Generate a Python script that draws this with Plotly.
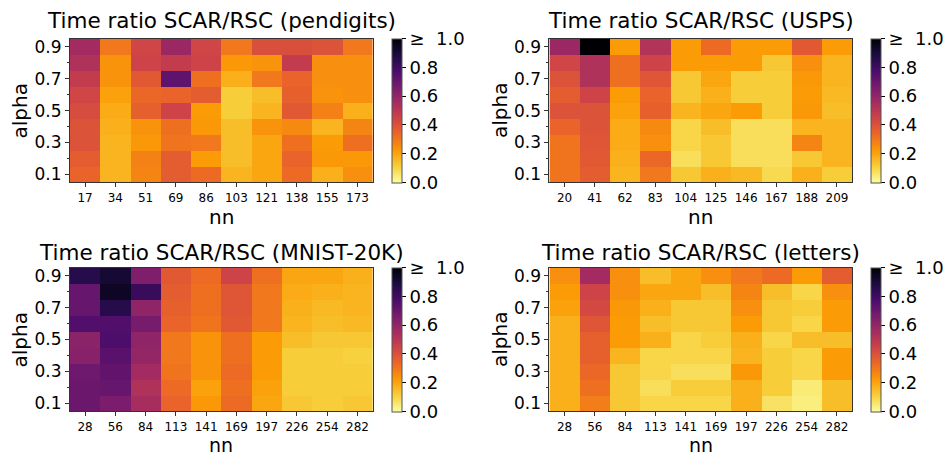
import plotly.graph_objects as go

alphas = [0.1, 0.2, 0.3, 0.4, 0.5, 0.6, 0.7, 0.8, 0.9]

nn_pendigits = ["17", "34", "51", "69", "86", "103", "121", "138", "155", "173"]
nn_usps = ["20", "41", "62", "83", "104", "125", "146", "167", "188", "209"]
nn_mnist = ["28", "56", "84", "113", "141", "169", "197", "226", "254", "282"]
nn_letters = ["28", "56", "84", "113", "141", "169", "197", "226", "254", "282"]

# rows: alpha 0.1 (first) ... 0.9 (last)
ratio_pendigits = [
    [0.35, 0.17, 0.27, 0.37, 0.33, 0.17, 0.20, 0.33, 0.18, 0.25],
    [0.37, 0.17, 0.28, 0.37, 0.22, 0.15, 0.20, 0.35, 0.23, 0.23],
    [0.40, 0.17, 0.23, 0.31, 0.30, 0.15, 0.20, 0.32, 0.22, 0.32],
    [0.40, 0.18, 0.24, 0.32, 0.23, 0.15, 0.24, 0.26, 0.17, 0.27],
    [0.42, 0.19, 0.36, 0.45, 0.22, 0.12, 0.17, 0.38, 0.28, 0.18],
    [0.44, 0.21, 0.34, 0.35, 0.37, 0.12, 0.15, 0.36, 0.24, 0.25],
    [0.48, 0.24, 0.38, 0.73, 0.32, 0.18, 0.30, 0.35, 0.25, 0.25],
    [0.53, 0.24, 0.45, 0.48, 0.45, 0.23, 0.24, 0.48, 0.25, 0.25],
    [0.56, 0.30, 0.44, 0.58, 0.44, 0.30, 0.41, 0.41, 0.40, 0.30],
]

ratio_usps = [
    [0.31, 0.37, 0.17, 0.30, 0.13, 0.18, 0.16, 0.09, 0.18, 0.12],
    [0.31, 0.38, 0.18, 0.34, 0.08, 0.13, 0.08, 0.08, 0.13, 0.17],
    [0.31, 0.39, 0.19, 0.25, 0.10, 0.13, 0.08, 0.08, 0.27, 0.17],
    [0.35, 0.40, 0.19, 0.26, 0.10, 0.15, 0.08, 0.08, 0.17, 0.17],
    [0.40, 0.40, 0.21, 0.36, 0.17, 0.20, 0.22, 0.12, 0.23, 0.15],
    [0.37, 0.45, 0.22, 0.35, 0.13, 0.18, 0.12, 0.12, 0.22, 0.16],
    [0.40, 0.53, 0.32, 0.39, 0.13, 0.20, 0.12, 0.12, 0.23, 0.17],
    [0.44, 0.53, 0.32, 0.45, 0.22, 0.22, 0.22, 0.13, 0.25, 0.17],
    [0.58, 1.00, 0.22, 0.52, 0.22, 0.33, 0.22, 0.22, 0.38, 0.22],
]

ratio_mnist = [
    [0.70, 0.66, 0.55, 0.35, 0.23, 0.33, 0.20, 0.13, 0.12, 0.13],
    [0.70, 0.71, 0.53, 0.33, 0.21, 0.32, 0.21, 0.12, 0.12, 0.12],
    [0.69, 0.72, 0.56, 0.31, 0.24, 0.33, 0.22, 0.12, 0.12, 0.12],
    [0.63, 0.74, 0.60, 0.30, 0.24, 0.32, 0.22, 0.12, 0.12, 0.11],
    [0.62, 0.77, 0.61, 0.30, 0.24, 0.32, 0.22, 0.15, 0.13, 0.13],
    [0.76, 0.76, 0.67, 0.35, 0.31, 0.38, 0.30, 0.17, 0.15, 0.16],
    [0.71, 0.86, 0.61, 0.36, 0.32, 0.39, 0.30, 0.18, 0.16, 0.17],
    [0.71, 0.94, 0.82, 0.37, 0.32, 0.39, 0.30, 0.19, 0.18, 0.17],
    [0.86, 0.91, 0.65, 0.38, 0.33, 0.45, 0.32, 0.20, 0.20, 0.18],
]

ratio_letters = [
    [0.18, 0.29, 0.13, 0.10, 0.10, 0.10, 0.18, 0.07, 0.04, 0.15],
    [0.18, 0.32, 0.13, 0.08, 0.12, 0.12, 0.18, 0.12, 0.05, 0.15],
    [0.18, 0.34, 0.13, 0.10, 0.08, 0.08, 0.23, 0.12, 0.10, 0.22],
    [0.18, 0.36, 0.17, 0.10, 0.10, 0.10, 0.17, 0.12, 0.10, 0.22],
    [0.18, 0.36, 0.22, 0.18, 0.10, 0.12, 0.18, 0.10, 0.15, 0.15],
    [0.18, 0.39, 0.22, 0.15, 0.13, 0.13, 0.22, 0.13, 0.10, 0.22],
    [0.21, 0.43, 0.23, 0.18, 0.13, 0.13, 0.25, 0.13, 0.12, 0.22],
    [0.22, 0.45, 0.25, 0.20, 0.20, 0.15, 0.27, 0.15, 0.10, 0.25],
    [0.25, 0.56, 0.25, 0.15, 0.20, 0.25, 0.30, 0.33, 0.22, 0.37],
]

titles = [
    "Time ratio SCAR/RSC (pendigits)",
    "Time ratio SCAR/RSC (USPS)",
    "Time ratio SCAR/RSC (MNIST-20K)",
    "Time ratio SCAR/RSC (letters)",
]
cbar_ticks = [0.0, 0.2, 0.4, 0.6, 0.8, 1.0]
cbar_labels = ["0.0", "0.2", "0.4", "0.6", "0.8", "≥\u00a0\u00a01.0"]
y_major = [0.1, 0.3, 0.5, 0.7, 0.9]
y_major_labels = ["0.1", "0.3", "0.5", "0.7", "0.9"]
y_minor = [0.2, 0.4, 0.6, 0.8]

W, H = 945, 460
FONT = "DejaVu Sans"

panels = [
    (nn_pendigits, ratio_pendigits, titles[0], (70, 373), (37, 182), 392, 19, 217, 20),
    (nn_usps, ratio_usps, titles[1], (550, 853), (37, 182), 872, 19, 217, 20),
    (nn_mnist, ratio_mnist, titles[2], (70, 373), (268, 413), 392, 253, 447, 19),
    (nn_letters, ratio_letters, titles[3], (550, 853), (268, 413), 872, 253, 447, 19),
]

fig = go.Figure()
layout = dict(
    width=W, height=H,
    margin=dict(l=0, r=0, t=0, b=0),
    paper_bgcolor="white", plot_bgcolor="white",
    font=dict(family=FONT, color="black"),
    showlegend=False,
    annotations=[],
)

for i, (xs, z, title, (x0, x1), (y0, y1), cbx, ty, ny, nsz) in enumerate(panels):
    k = "" if i == 0 else str(i + 1)
    xa, ya = "x" + k, "y" + k
    dx = [x0 / W, x1 / W]
    dy = [1 - y1 / H, 1 - y0 / H]
    fig.add_trace(go.Heatmap(
        x=xs, y=alphas, z=z,
        xaxis=xa, yaxis=ya,
        colorscale="Inferno_r", zmin=0, zmax=1,
        colorbar=dict(
            x=cbx / W, xanchor="left", xref="paper",
            y=(dy[0] + dy[1]) / 2, yanchor="middle",
            len=dy[1] - dy[0], lenmode="fraction",
            thickness=10, thicknessmode="pixels",
            outlinewidth=1, outlinecolor="#555",
            tickvals=cbar_ticks, ticktext=cbar_labels,
            ticks="outside", ticklen=4, tickcolor="black",
            tickfont=dict(size=18, family=FONT, color="black"),
            xpad=0, ypad=0,
        ),
    ))
    layout["xaxis" + k] = dict(
        domain=dx, anchor=ya, type="category",
        showline=True, linecolor="#333", linewidth=1, mirror=True,
        ticks="outside", ticklen=4, tickcolor="#333",
        tickfont=dict(size=12, family=FONT, color="black"),
        showgrid=False, zeroline=False,
    )
    layout["yaxis" + k] = dict(
        domain=dy, anchor=xa, range=[0.05, 0.95],
        tickvals=y_major, ticktext=y_major_labels,
        showline=True, linecolor="#333", linewidth=1, mirror=True,
        ticks="outside", ticklen=4, tickcolor="#333",
        minor=dict(tickvals=y_minor, ticks="outside", ticklen=2, tickcolor="#333", showgrid=False),
        tickfont=dict(size=17, family=FONT, color="black"),
        showgrid=False, zeroline=False,
    )
    layout["annotations"].append(dict(
        text=title, x=(x0 + x1) / 2 / W, y=1 - ty / H,
        xref="paper", yref="paper", xanchor="center", yanchor="middle",
        showarrow=False, font=dict(size=21.5, family=FONT, color="black"),
    ))
    layout["annotations"].append(dict(
        text="nn", x=(x0 + x1) / 2 / W, y=1 - ny / H,
        xref="paper", yref="paper", xanchor="center", yanchor="middle",
        showarrow=False, font=dict(size=nsz, family=FONT, color="black"),
    ))
    layout["annotations"].append(dict(
        text="alpha", x=(x0 - 36) / W, y=(dy[0] + dy[1]) / 2,
        xref="paper", yref="paper", xanchor="right", yanchor="middle",
        textangle=-90,
        showarrow=False, font=dict(size=20, family=FONT, color="black"),
    ))

fig.update_layout(**layout)
fig.write_html("out.html")
